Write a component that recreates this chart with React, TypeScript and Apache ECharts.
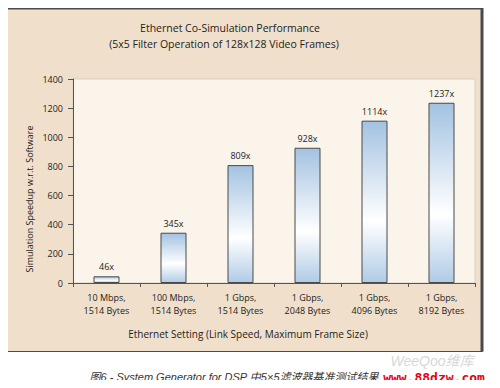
import React, { useEffect, useRef } from "react";
import * as echarts from "echarts";

const categories = [
  "10 Mbps,\n1514 Bytes",
  "100 Mbps,\n1514 Bytes",
  "1 Gbps,\n1514 Bytes",
  "1 Gbps,\n2048 Bytes",
  "1 Gbps,\n4096 Bytes",
  "1 Gbps,\n8192 Bytes",
];
const speedups = [46, 345, 809, 928, 1114, 1237];
const yTicks = { min: 0, max: 1400, interval: 200 };

const titleLines = [
  "Ethernet Co-Simulation Performance",
  "(5x5 Filter Operation of 128x128 Video Frames)",
];
const yName = "Simulation Speedup w.r.t. Software";
const xName = "Ethernet Setting (Link Speed, Maximum Frame Size)";
const caption = "图6 - System Generator for DSP 中5×5滤波器基准测试结果";

const FONT = "'Open Sans', 'Noto Sans', sans-serif";

export default function App() {
  const ref = useRef<HTMLDivElement>(null);
  useEffect(() => {
    if (!ref.current) return;
    const chart = echarts.init(ref.current, undefined, { renderer: "svg" });
    chart.setOption({
      animation: false,
      backgroundColor: "#ffffff",
      textStyle: { fontFamily: FONT },
      graphic: [
        {
          type: "rect",
          z: -10,
          silent: true,
          shape: { x: 7.5, y: 8.5, width: 475, height: 343 },
          style: { fill: "#f0e0cb", stroke: "#4a4a4a", lineWidth: 1 },
        },
        {
          type: "line",
          z: -9,
          shape: { x1: 7.5, y1: 8.5, x2: 483, y2: 8.5 },
          style: { stroke: "#4a4a4a", lineWidth: 2 },
        },
        {
          type: "line",
          z: -9,
          shape: { x1: 482, y1: 8, x2: 482, y2: 351.5 },
          style: { stroke: "#4a4a4a", lineWidth: 3 },
        },
        {
          type: "text",
          x: 230,
          y: 28,
          style: {
            text: titleLines[0],
            fill: "#222",
            font: `10.5px ${FONT}`,
            align: "center",
            verticalAlign: "middle",
          },
        },
        {
          type: "text",
          x: 224,
          y: 44,
          style: {
            text: titleLines[1],
            fill: "#222",
            font: `10.5px ${FONT}`,
            align: "center",
            verticalAlign: "middle",
          },
        },
        {
          type: "text",
          x: 29,
          y: 199,
          rotation: Math.PI / 2,
          style: {
            text: yName,
            fill: "#222",
            font: `9px ${FONT}`,
            align: "center",
            verticalAlign: "middle",
          },
        },
        {
          type: "text",
          x: 248,
          y: 334,
          style: {
            text: xName,
            fill: "#222",
            font: `10px ${FONT}`,
            align: "center",
            verticalAlign: "middle",
          },
        },
        {
          type: "text",
          x: 234,
          y: 377,
          style: {
            text: caption,
            fill: "#333",
            font: `italic 11px 'Liberation Sans', 'Noto Sans CJK SC', sans-serif`,
            align: "center",
            verticalAlign: "middle",
          },
        },
        {
          type: "text",
          x: 432,
          y: 361,
          style: {
            text: "WeeQoo维库",
            fill: "#d8d8d8",
            font: `italic 14px 'Liberation Sans', 'Noto Sans CJK SC', sans-serif`,
            align: "center",
            verticalAlign: "middle",
          },
        },
        {
          type: "text",
          x: 434,
          y: 377,
          style: {
            text: "www.88dzw.com",
            fill: "#e8000c",
            font: `bold 13px 'DejaVu Sans Mono', monospace`,
            align: "center",
            verticalAlign: "middle",
          },
        },
      ],
      grid: {
        left: 73,
        right: 25,
        top: 79,
        bottom: 105,
        show: true,
        backgroundColor: "#faf4ea",
        borderColor: "#d9d0c2",
        borderWidth: 1,
      },
      xAxis: {
        type: "category",
        data: categories,
        axisLine: { lineStyle: { color: "#555", width: 1 } },
        axisTick: { show: true, length: 4, lineStyle: { color: "#555" } },
        axisLabel: {
          color: "#222",
          fontSize: 9,
          lineHeight: 13,
          margin: 8,
          fontFamily: FONT,
        },
      },
      yAxis: {
        type: "value",
        min: yTicks.min,
        max: yTicks.max,
        interval: yTicks.interval,
        axisLine: { show: true, lineStyle: { color: "#555", width: 1 } },
        axisTick: { show: true, length: 5, lineStyle: { color: "#555" } },
        splitLine: { show: false },
        axisLabel: {
          color: "#222",
          fontSize: 9,
          margin: 10,
          fontFamily: FONT,
          formatter: (v: number) => String(v),
        },
      },
      series: [
        {
          type: "bar",
          data: speedups,
          barWidth: 26,
          itemStyle: {
            color: new echarts.graphic.LinearGradient(0, 0, 0, 1, [
              { offset: 0, color: "#a3c2e1" },
              { offset: 0.62, color: "#ffffff" },
              { offset: 1, color: "#b0cbe6" },
            ]),
            borderColor: "#4a4a4a",
            borderWidth: 1,
          },
          label: {
            show: true,
            position: "top",
            distance: 5,
            formatter: (p: any) => `${p.value}x`,
            color: "#222",
            fontSize: 9,
            fontFamily: FONT,
          },
        },
      ],
    });
    return () => chart.dispose();
  }, []);
  return <div ref={ref} style={{ width: 500, height: 388, margin: -8 }} />;
}
